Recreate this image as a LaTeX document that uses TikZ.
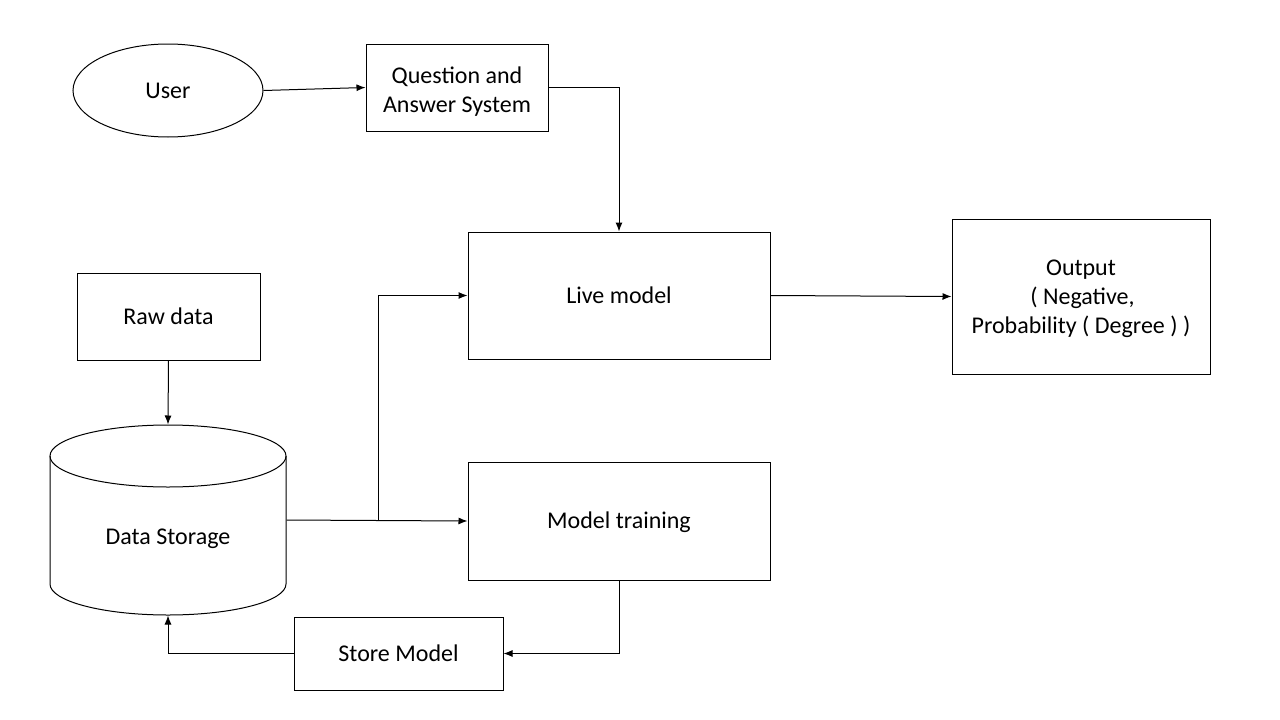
\documentclass[tikz,border=0pt]{standalone}
\usepackage{fontspec}
\setmainfont{Carlito}
\usetikzlibrary{arrows.meta,shapes.geometric}
\newcommand{\lowr}[2]{\raisebox{-#1pt}[\height][\depth]{\begin{tabular}{@{}c@{}}#2\end{tabular}}}
\begin{document}
\begin{tikzpicture}[x=1pt,y=-1pt,
  line width=1pt,
  every node/.style={font=\fontsize{24}{29}\selectfont, align=center, inner sep=0pt},
  one/.style={text height=15.5pt, text depth=0pt},
  box/.style={draw, rectangle},
  arr/.style={draw, -{Latex[length=9pt,width=7pt]}}]
\useasboundingbox (0,0) rectangle (1280,720);
\fill[white] (0,0) rectangle (1280,720);
% nodes
\node[draw, ellipse, one, minimum width=190pt, minimum height=93pt] (user) at (168,90.5) {User};
\node[box, minimum width=182pt, minimum height=87pt] (qa) at (457,87.5) {\lowr{5}{Question and\\Answer System}};
\node[box, one, minimum width=302pt, minimum height=127pt] (live) at (619,295.5) {Live model};
\node[box, minimum width=258pt, minimum height=155pt] (out) at (1081,296.5) {\lowr{2.5}{Output\\\hspace*{3pt}( Negative,\\Probability ( Degree ) )}};
\node[box, one, minimum width=183pt, minimum height=87pt] (raw) at (168.5,316.5) {Raw data};
\node[box, one, minimum width=302pt, minimum height=118pt] (train) at (619,521) {Model training};
\node[box, one, minimum width=209pt, minimum height=73pt] (store) at (398.5,653.5) {Store Model};
% cylinder
\draw (50,456) -- (50,584) arc[start angle=180, end angle=360, x radius=118, y radius=-31] -- (286,456);
\draw (168,456) ellipse[x radius=118, y radius=31];
\node[minimum width=236pt, minimum height=190pt] (ds) at (168,520) {};
\node[one] (dslabel) at (168,537) {Data Storage};
% connectors
\draw[arr] (user.east) -- (qa.west);
\draw[arr] (qa.east) -| (live.north);
\draw[arr] (live.east) -- (out.west);
\draw[arr] (raw.south) -- (ds.north);
\draw[arr] (ds.east) -- (train.west);
\coordinate (br) at (378,520);
\draw[arr] (br) |- (live.west);
\draw[arr] (train.south) |- (store.east);
\draw[arr] (store.west) -| (ds.south);
\end{tikzpicture}
\end{document}
